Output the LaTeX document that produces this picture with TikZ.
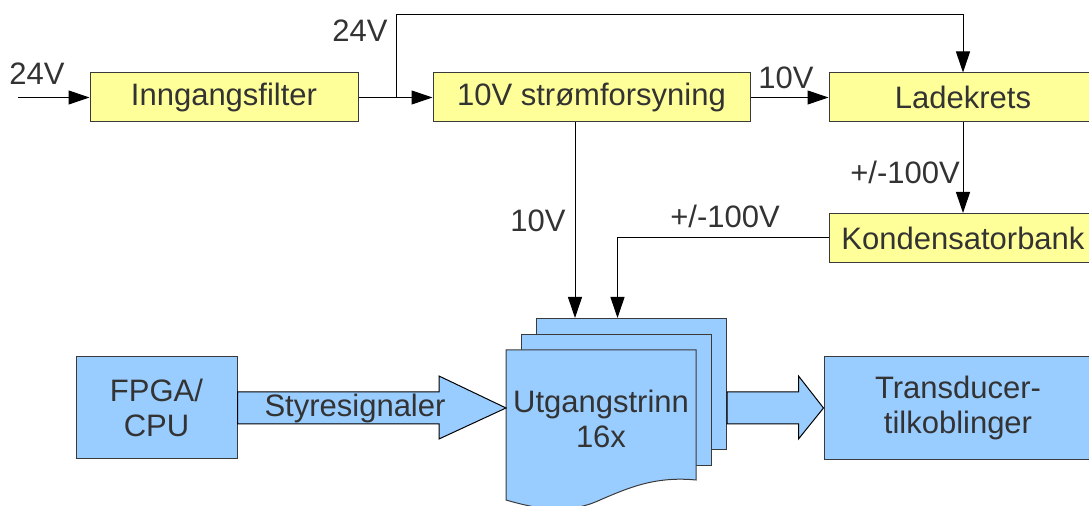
\documentclass[tikz,border=0pt]{standalone}
\usepackage{fontspec}
\setmainfont{Liberation Sans}
\usetikzlibrary{arrows.meta,positioning,calc}
\definecolor{boxyellow}{HTML}{FFFF99}
\definecolor{boxblue}{HTML}{99CCFF}
\definecolor{txtgray}{HTML}{333333}
\definecolor{edgegray}{HTML}{3A3A3A}
\begin{document}
\begin{tikzpicture}[x=0.5pt,y=-0.5pt,
    every node/.style={font=\fontsize{15.5}{17.5}\selectfont, text=txtgray},
    psu/.style={draw=edgegray, fill=boxyellow, line width=0.5pt, minimum width=134pt, minimum height=24.5pt, inner sep=0pt},
    sig/.style={draw=edgegray, fill=boxblue, line width=0.5pt, inner sep=0pt, align=center},
    arr/.style={-{Triangle[length=10.5pt,width=7pt]}, line width=0.5pt},
    wide/.style={draw=black, fill=boxblue, line width=0.5pt}]
    \useasboundingbox (0,0) rectangle (1089,506);

    % Power chain (yellow boxes)
    \node[psu] (filt) at (224,97.5) {Inngangsfilter};
    \node[psu, minimum width=158.5pt] (strom) at (591.5,97.5) {10V strømforsyning};
    \node[psu] (lade) at (963,97.5) {Ladekrets};
    \node[psu] (kond) at (963,238) {Kondensatorbank};

    % Control and load (blue boxes)
    \node[sig, minimum width=80.5pt, minimum height=51pt] (fpga) at (156.5,408) {FPGA/\\CPU};
    \node[sig, minimum width=134pt, minimum height=51.5pt] (trans) at (958,408) {Transducer-\\tilkoblinger};

    % Output stages, stacked sheets
    \foreach \dx/\dy [count=\i] in {30/32, 15/16} {
        \node[sig, anchor=north west, minimum width=95pt, minimum height=65.5pt] (stack\i) at (506+\dx,350-\dy) {};
    }
    \node[anchor=north west, minimum width=95pt, minimum height=75pt, inner sep=0pt] (front) at (506,350) {};
    \draw[wide, draw=edgegray] (506,350) -- (696,350) -- (696,480)
        .. controls (655,476) and (628,488) .. (600,500)
        .. controls (570,514) and (540,510) .. (506,500) -- cycle;
    \node[align=center] (ut) at (601,418.5) {Utgangstrinn\\16x};

    % Wide signal arrows
    \coordinate (tipA) at (front.west |- fpga.east);
    \draw[wide] ($(fpga.east)+(0,-16)$) -- ($(tipA)+(-67,-16)$) -- ($(tipA)+(-67,-32)$) -- (tipA)
        -- ($(tipA)+(-67,31)$) -- ($(tipA)+(-67,16)$) -- ($(fpga.east)+(0,16)$) -- cycle;
    \node (styr) at (355,408) {Styresignaler};
    \coordinate (tipB) at (trans.west |- fpga.east);
    \draw[wide] ($(stack1.east |- tipB)+(0,-16)$) -- ($(tipB)+(-25,-16)$) -- ($(tipB)+(-25,-32)$) -- (tipB)
        -- ($(tipB)+(-25,31)$) -- ($(tipB)+(-25,16)$) -- ($(stack1.east |- tipB)+(0,16)$) -- cycle;

    % Supply lines
    \coordinate (in) at (18,97.5);
    \draw[arr] (in) -- (filt.west);
    \draw[arr] (filt.east) -- (strom.west);
    \coordinate (split) at ($(filt.east)!0.52!(strom.west)$);
    \draw[arr] (split) -- ++(0,-82.5) -| (lade.north);
    \draw[arr] (strom.east) -- (lade.west);
    \draw[arr] (lade.south) -- (kond.north);
    \draw[arr] ([xshift=-8.25pt]strom.south) -- ([xshift=-8.25pt]strom.south |- stack1.north);
    \draw[arr] (kond.west) -| ([xshift=-7pt]stack1.north);

    % Voltage labels
    \node (vin) at (37,74) {24V};
    \node (vbyp) at (360,31) {24V};
    \node (vten) at (786,78) {10V};
    \node (vlade) at (905,172) {+/-100V};
    \node (vkond) at (725,216) {+/-100V};
    \node (vstrom) at (538,221) {10V};
\end{tikzpicture}
\end{document}
